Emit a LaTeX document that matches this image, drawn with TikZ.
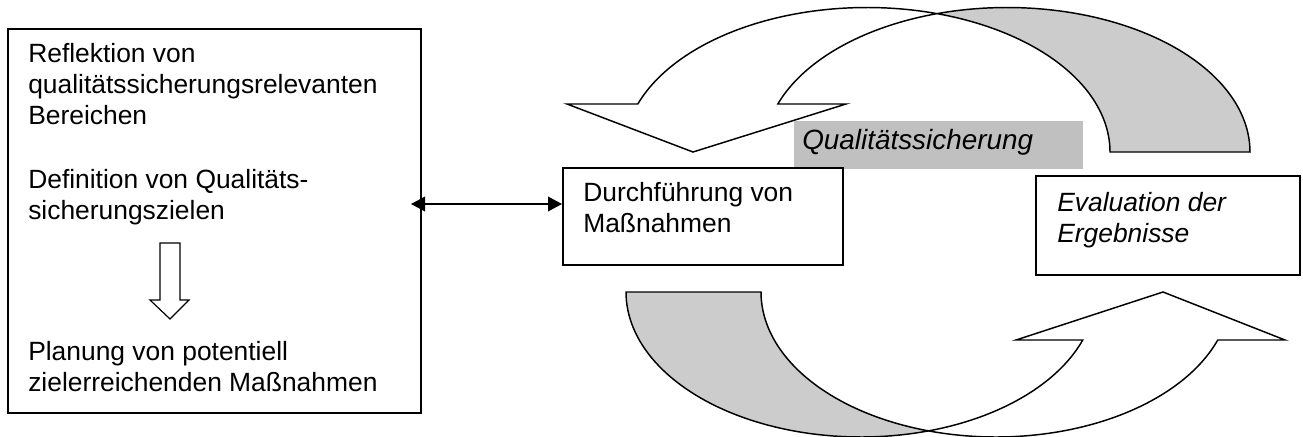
\documentclass[tikz,border=0pt]{standalone}
\usepackage{fontspec}
\setmainfont{Liberation Sans}
\usetikzlibrary{arrows.meta,calc}
\definecolor{arcgray}{RGB}{204,204,204}
\definecolor{boxgray}{RGB}{192,192,192}
\newcommand\fsz{\fontsize{19.8pt}{23.25pt}\selectfont}
\newcommand\fszq{\fontsize{20.9pt}{24pt}\selectfont}
\begin{document}
\begin{tikzpicture}[x=0.75pt,y=-0.75pt,line join=miter,
  box/.style={draw,line width=1.3pt,fill=white,inner sep=0pt,anchor=north west},
  txt/.style={anchor=base west,inner sep=0pt,font=\fsz},
  bigarrow/.style={draw,line width=1.1pt},
  ptr/.style={line width=1.1pt,{Triangle[length=10.5pt,width=11pt]}-{Triangle[length=10.5pt,width=11pt]}}]
\useasboundingbox[fill=white] (0,0) rectangle (1303,436);

% upper curved arrow (back part, grey)
\path[bigarrow,fill=arcgray]
  plot[domain=253.26:360,samples=60] ({1007+243*cos(\x)},{152+144.5*sin(\x)})
  -- plot[domain=360:286.74,samples=60] ({867+243*cos(\x)},{152+144.5*sin(\x)})
  -- cycle;
% upper curved arrow (front part, white)
\path[bigarrow,fill=white]
  (567,104) -- plot[domain=199.4:286.74,samples=60] ({867+243*cos(\x)},{152+144.5*sin(\x)})
  -- plot[domain=253.26:199.4,samples=60] ({1007+243*cos(\x)},{152+144.5*sin(\x)})
  -- (846,104) -- (693,152) -- cycle;

% lower curved arrow (back part, grey)
\path[bigarrow,fill=arcgray]
  plot[domain=180:73.31,samples=60] ({861+235*cos(\x)},{292+145*sin(\x)})
  -- plot[domain=106.69:180,samples=60] ({996+235*cos(\x)},{292+145*sin(\x)})
  -- cycle;
% lower curved arrow (front part, white)
\path[bigarrow,fill=white]
  plot[domain=73.31:19.33,samples=60] ({861+235*cos(\x)},{292+145*sin(\x)})
  -- (1016,340) -- (1163,292) -- (1285,340)
  -- plot[domain=19.33:106.69,samples=60] ({996+235*cos(\x)},{292+145*sin(\x)})
  -- cycle;

% grey label band
\node[fill=boxgray,inner sep=0pt,anchor=north west,minimum width=216.75pt,minimum height=36pt] (qsband) at (794,121) {};
\node[txt,font=\fszq\itshape] (qs) at (802,149) {Qualitätssicherung};

% boxes
\node[box,minimum width=309.75pt,minimum height=288pt] (plan) at (7,28) {};
\node[box,minimum width=210pt,minimum height=72.75pt] (durch) at (562,167) {};
\node[box,minimum width=198pt,minimum height=74.25pt] (eval) at (1035,175) {};

% texts
\node[txt] (t1) at (28,62.7) {\parbox[t]{400pt}{\raggedright Reflektion von\\qualitätssicherungsrelevanten\\Bereichen}};
\node[txt] (t2) at (28,188.3) {\parbox[t]{400pt}{\raggedright Definition von Qualitäts-\\sicherungszielen}};
\node[txt] (t3) at (28,360) {\parbox[t]{400pt}{\raggedright Planung von potentiell\\zielerreichenden Maßnahmen}};
\node[txt] (t4) at (583,201.7) {\parbox[t]{300pt}{\raggedright Durchführung von\\Maßnahmen}};
\node[txt,font=\fsz\itshape] (t5) at (1057,211.7) {\parbox[t]{300pt}{\raggedright Evaluation der\\Ergebnisse}};

% small down arrow in left box
\path[draw,line width=0.9pt,fill=white] (160,243) -- (180,243) -- (180,300) -- (189,300) -- (170,319) -- (150,300) -- (160,300) -- cycle;

% double arrow
\coordinate (lt) at (411,204);
\draw[ptr] (lt) -- (lt -| durch.west);
\end{tikzpicture}
\end{document}
